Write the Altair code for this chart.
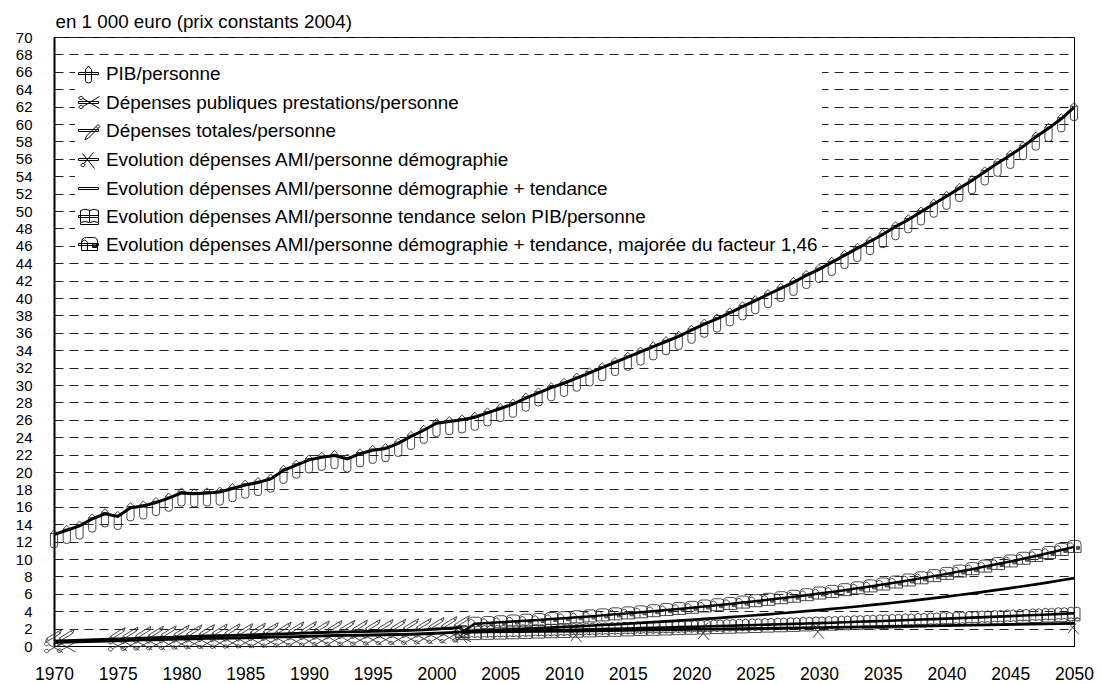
import altair as alt
import pandas as pd

# ---------------- data ----------------
S_PIB = "PIB/personne"
S_PREST = "Dépenses publiques prestations/personne"
S_TOT = "Dépenses totales/personne"
S_DEMO = "Evolution dépenses AMI/personne démographie"
S_DT = "Evolution dépenses AMI/personne démographie + tendance"
S_BOOK = "Evolution dépenses AMI/personne tendance selon PIB/personne"
S_MAJ = "Evolution dépenses AMI/personne démographie + tendance, majorée du facteur 1,46"
series_names = [S_PIB, S_PREST, S_TOT, S_DEMO, S_DT, S_BOOK, S_MAJ]

years_all = list(range(1970, 2051))
years_hist = [1970, 1971] + list(range(1975, 2003))
years_proj = list(range(2002, 2051))
years_demo = [2002, 2011, 2021, 2030, 2050]

pib = [
    12.8, 13.3, 13.8, 14.6, 15.2, 14.9, 15.9, 16.1, 16.5, 17.0,
    17.6, 17.5, 17.6, 17.7, 18.1, 18.5, 18.8, 19.2, 20.2, 20.8,
    21.4, 21.7, 21.9, 21.5, 22.1, 22.5, 22.7, 23.3, 24.1, 24.8,
    25.6, 25.8, 26.0, 26.3, 26.8, 27.3, 27.8, 28.5, 29.1, 29.7,
    30.2, 30.8, 31.4, 32.0, 32.6, 33.2, 33.8, 34.4, 35.0, 35.6,
    36.3, 37.0, 37.6, 38.3, 39.0, 39.7, 40.4, 41.1, 41.8, 42.6,
    43.3, 44.1, 44.9, 45.7, 46.5, 47.3, 48.2, 49.0, 49.9, 50.8,
    51.7, 52.6, 53.5, 54.5, 55.5, 56.4, 57.4, 58.5, 59.5, 60.6,
    61.9,
]
prestations = [0.4, 0.45, 0.6, 0.65, 0.7, 0.72, 0.76, 0.8, 0.84, 0.88, 0.9, 0.92,
               0.95, 0.98, 1.02, 1.05, 1.08, 1.12, 1.16, 1.2, 1.22, 1.24, 1.27, 1.3,
               1.32, 1.36, 1.4, 1.46, 1.54, 1.62]
totales = [0.55, 0.6, 0.8, 0.85, 0.9, 0.95, 1.0, 1.05, 1.1, 1.15, 1.2, 1.22, 1.25,
           1.3, 1.35, 1.4, 1.45, 1.5, 1.55, 1.6, 1.62, 1.65, 1.7, 1.72, 1.75, 1.8,
           1.85, 1.95, 2.05, 2.15]
demographie = [1.6, 1.7, 1.95, 2.1, 2.6]
dem_tendance = [1.6, 1.75, 1.81, 1.87, 1.93, 1.99, 2.05, 2.12, 2.19, 2.26, 2.33, 2.41,
                2.49, 2.57, 2.65, 2.74, 2.83, 2.92, 3.01, 3.11, 3.21, 3.31, 3.42, 3.53,
                3.64, 3.76, 3.88, 4.00, 4.13, 4.26, 4.40, 4.54, 4.69, 4.84, 5.00, 5.16,
                5.33, 5.50, 5.68, 5.86, 6.05, 6.25, 6.45, 6.66, 6.87, 7.09, 7.32, 7.56,
                7.80]
tendance_pib = [1.6, 1.60, 1.63, 1.66, 1.69, 1.73, 1.77, 1.81, 1.84, 1.87, 1.91, 1.95,
                1.98, 2.02, 2.06, 2.09, 2.13, 2.17, 2.21, 2.25, 2.29, 2.33, 2.37, 2.41,
                2.46, 2.50, 2.54, 2.59, 2.63, 2.68, 2.73, 2.78, 2.83, 2.88, 2.93, 2.98,
                3.04, 3.09, 3.15, 3.20, 3.26, 3.32, 3.38, 3.43, 3.50, 3.56, 3.62, 3.69,
                3.76]
majoree = [1.6, 2.56, 2.64, 2.73, 2.82, 2.91, 2.99, 3.10, 3.20, 3.30, 3.40, 3.52, 3.64,
           3.75, 3.87, 4.00, 4.13, 4.26, 4.39, 4.54, 4.69, 4.83, 4.99, 5.15, 5.31,
           5.49, 5.66, 5.84, 6.03, 6.22, 6.42, 6.63, 6.85, 7.07, 7.30, 7.53, 7.78,
           8.03, 8.29, 8.56, 8.83, 9.13, 9.42, 9.72, 10.03, 10.35, 10.69, 11.04, 11.39]

y_ticks = list(range(0, 71, 2))
x_ticks = list(range(1970, 2051, 5))

rows = []
for name, yrs, vals in [
    (S_PIB, years_all, pib),
    (S_PREST, years_hist, prestations),
    (S_TOT, years_hist, totales),
    (S_DEMO, years_demo, demographie),
    (S_DT, years_proj, dem_tendance),
    (S_BOOK, years_proj, tendance_pib),
    (S_MAJ, years_proj, majoree),
]:
    for yr, v in zip(yrs, vals):
        rows.append({"year": yr, "value": v, "series": name})
df = pd.DataFrame(rows)

# ---------------- glyphs ----------------
CANDLE = "M0,-0.5 L0.36,-0.12 L0.36,1.05 Q0.36,1.32 0,1.32 Q-0.36,1.32 -0.36,1.05 L-0.36,-0.12 Z M-0.36,-0.12 L0.36,-0.12"
SCISSORS = ("M-0.95,0.15 A0.22,0.17 0 1,1 -0.51,0.15 A0.22,0.17 0 1,1 -0.95,0.15 Z "
            "M-0.95,0.85 A0.22,0.17 0 1,1 -0.51,0.85 A0.22,0.17 0 1,1 -0.95,0.85 Z "
            "M-0.52,0.2 L0.9,1.0 M-0.52,0.8 L0.9,0.0")
PENCIL = ("M-0.85,0.05 L-0.7,-0.3 L0.45,-1.0 L0.6,-0.75 L-0.55,-0.05 Z "
          "M-0.7,-0.3 L-0.55,-0.05 M0.45,-1.0 L0.75,-1.15 L0.6,-0.75")
SCISSORS2 = ("M-0.8,-0.1 A0.2,0.2 0 1,1 -0.4,-0.1 A0.2,0.2 0 1,1 -0.8,-0.1 Z "
             "M-0.45,0.05 L0.5,1.1 M0.2,0.0 L-0.6,1.0 M-0.2,-0.2 L0.4,-0.6")
BOOK = ("M-0.6,-0.5 Q-0.3,-0.75 0,-0.5 Q0.3,-0.75 0.6,-0.5 L0.6,0.55 Q0.3,0.35 0,0.55 "
        "Q-0.3,0.35 -0.6,0.55 Z M0,-0.5 L0,0.55 M-0.6,0.55 L-0.6,0.75 L0.6,0.75 L0.6,0.55")
MAILBOX = ("M-0.65,0.55 L-0.65,-0.2 Q-0.65,-0.65 -0.2,-0.65 L0.35,-0.65 Q0.7,-0.65 0.7,-0.25 "
           "L0.7,0.55 Z M-0.65,-0.2 Q-0.35,-0.65 -0.05,-0.2 L-0.05,0.55 "
           "M0.25,-0.05 L0.55,-0.05 L0.55,0.25 L0.25,0.25 Z M0.25,0.05 L0.55,0.05 M0.25,0.15 L0.55,0.15")

glyph_domain = [S_PIB, S_PREST, S_TOT, S_DEMO, S_BOOK, S_MAJ]
glyph_range = [CANDLE, SCISSORS, PENCIL, SCISSORS2, BOOK, MAILBOX]

LINE = "M-1,-0.1 L1,-0.1 L1,0.1 L-1,0.1 Z "
legend_range = [
    LINE + "M0,-0.75 L0.3,-0.4 L0.3,0.7 Q0.3,0.95 0,0.95 Q-0.3,0.95 -0.3,0.7 L-0.3,-0.4 Z",
    LINE + ("M-0.95,-0.45 A0.2,0.16 0 1,1 -0.55,-0.45 A0.2,0.16 0 1,1 -0.95,-0.45 Z "
            "M-0.95,0.45 A0.2,0.16 0 1,1 -0.55,0.45 A0.2,0.16 0 1,1 -0.95,0.45 Z "
            "M-0.55,-0.4 L1.1,0.6 M-0.55,0.4 L1.1,-0.6"),
    LINE + "M-0.35,0.95 L-0.2,0.55 L0.75,-0.4 L0.95,-0.2 L0.0,0.75 Z M0.75,-0.4 L0.95,-0.6 L1.15,-0.4 L0.95,-0.2",
    LINE + ("M-0.75,0.55 A0.2,0.16 0 1,1 -0.35,0.55 A0.2,0.16 0 1,1 -0.75,0.55 Z "
            "M-0.45,0.4 L0.5,-0.7 M-0.6,-0.6 L0.6,0.9"),
    LINE,
    LINE + ("M-0.8,-0.6 Q-0.35,-0.85 0.1,-0.6 Q0.55,-0.85 1.0,-0.6 L1.0,0.6 Q0.55,0.4 0.1,0.6 "
            "Q-0.35,0.4 -0.8,0.6 Z M0.1,-0.6 L0.1,0.6 M-0.8,0.6 L-0.8,0.8 L1.0,0.8 L1.0,0.6"),
    LINE + ("M-0.7,0.6 L-0.7,-0.2 Q-0.7,-0.7 -0.2,-0.7 L0.5,-0.7 Q0.9,-0.7 0.9,-0.25 L0.9,0.6 Z "
            "M-0.7,-0.2 Q-0.4,-0.7 -0.1,-0.2 L-0.1,0.6 M0.4,-0.1 L0.8,-0.1 L0.8,0.3 L0.4,0.3 Z "
            "M0.4,0.05 L0.8,0.05 M0.4,0.18 L0.8,0.18"),
]
line_widths = [3, 2.5, 3, 2, 3, 3, 2]

# ---------------- encodings ----------------
FONT = "Liberation Sans"
x_enc = alt.X(
    "year:Q",
    scale=alt.Scale(domain=[1970, 2050], nice=False, zero=False),
    axis=alt.Axis(values=x_ticks, format="d", title=None, grid=False, ticks=False,
                  labelPadding=19, labelFlush=False, labelOverlap=False,
                  labelFontSize=17.5, domainColor="black", domainWidth=1),
)
y_enc = alt.Y(
    "value:Q",
    scale=alt.Scale(domain=[0, 70], nice=False, zero=True),
    axis=alt.Axis(values=y_ticks, title="en 1 000 euro (prix constants 2004)",
                  titleAngle=0, titleAlign="left", titleBaseline="alphabetic",
                  titleX=1, titleY=-10, titleFontSize=18.8, titleFontWeight="normal",
                  grid=True, gridDash=[9, 6], gridColor="#222", gridWidth=1,
                  ticks=False, labelPadding=22, labelFlush=False, labelOverlap=False,
                  labelFontSize=15, domainColor="black", domainWidth=2),
)

points = (
    alt.Chart(df)
    .transform_filter(alt.datum.series != S_DT)
    .mark_point(filled=False, size=400, strokeWidth=0.9, color="#333", opacity=1)
    .encode(
        x=x_enc, y=y_enc,
        shape=alt.Shape("series:N", scale=alt.Scale(domain=glyph_domain, range=glyph_range), legend=None),
    )
)

lines = (
    alt.Chart(df)
    .mark_line(color="black")
    .encode(
        x=x_enc, y=y_enc, detail="series:N",
        strokeWidth=alt.StrokeWidth("series:N", scale=alt.Scale(domain=series_names, range=line_widths), legend=None),
    )
)

legend_layer = (
    alt.Chart(df)
    .mark_point(filled=False, size=400, strokeWidth=1, color="black", opacity=0)
    .encode(
        x=x_enc, y=y_enc,
        shape=alt.Shape(
            "series:N", sort=series_names,
            scale=alt.Scale(domain=series_names, range=legend_range),
            legend=alt.Legend(
                title=None, orient="none", legendX=21, legendY=23,
                fillColor="white", padding=3, rowPadding=7, symbolSize=400,
                symbolOpacity=1, symbolStrokeWidth=1, symbolStrokeColor="black",
                symbolFillColor="transparent", labelFontSize=18.9, labelFont=FONT,
                labelColor="black", labelLimit=1000, labelOffset=7,
            ),
        ),
    )
)

chart = (
    alt.layer(points, lines, legend_layer)
    .resolve_scale(shape="independent")
    .properties(
        width=1020, height=609,
        autosize=alt.AutoSizeParams(type="none"),
        padding={"left": 46, "top": 29, "right": 20, "bottom": 36},
    )
    .configure(font=FONT)
    .configure_view(stroke="black", strokeWidth=1)
    .configure_axis(labelFont=FONT, labelColor="black",
                    titleFont=FONT, titleColor="black")
)

chart.save("out.html", embed_options={"renderer": "svg", "actions": False})
